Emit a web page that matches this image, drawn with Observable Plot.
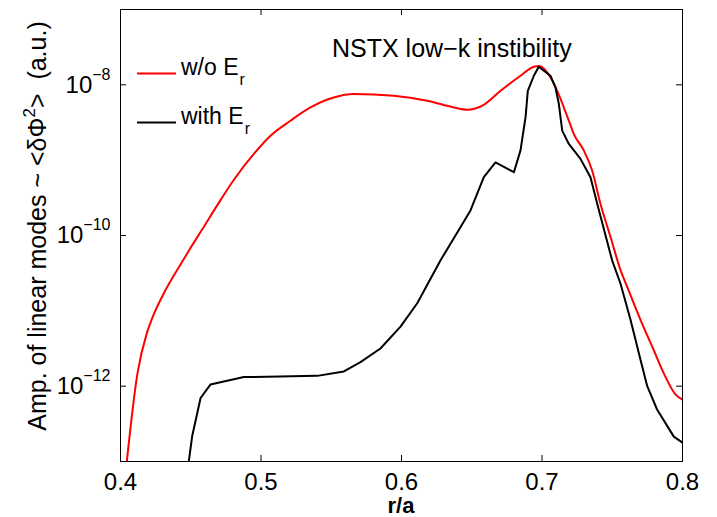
<!DOCTYPE html>
<html>
<head>
<meta charset="utf-8">
<script src="https://cdn.jsdelivr.net/npm/d3@7"></script>
<script src="https://cdn.jsdelivr.net/npm/@observablehq/plot@0.6"></script>
<style>
  body { margin: 0; background: #fff; }
  #chart { position: relative; width: 717px; height: 517px; font-family: "Liberation Sans", Arial, sans-serif; }
</style>
</head>
<body>
<div id="chart"></div>
<script>
// ---- data ----
const xTicks = [0.4, 0.5, 0.6, 0.7, 0.8];
const yTicks = [1e-12, 1e-10, 1e-8];
const yTickExponents = ["−12", "−10", "−8"];

const seriesNames = ["w/o E", "with E"];
const seriesSub = "r";
const titleText = "NSTX low−k instibility";

// w/o E_r (red)
const redR = [0.4045, 0.4119, 0.419, 0.4225, 0.4308, 0.4439, 0.451, 0.4581, 0.4688, 0.4807, 0.4949, 0.5068, 0.521,
  0.5352, 0.5518, 0.5661, 0.5945, 0.6183, 0.6373, 0.6468, 0.6586, 0.6705, 0.6847, 0.6942, 0.698, 0.706, 0.7108,
  0.7191, 0.7226, 0.7298, 0.7357, 0.7416, 0.7488, 0.7559, 0.7606, 0.7701, 0.7795, 0.7867, 0.795, 0.8];
const redAmp = [1.0e-13, 1.41e-12, 5.25e-12, 7.94e-12, 1.70e-11, 4.47e-11, 7.41e-11, 1.20e-10, 2.51e-10, 5.50e-10, 1.21e-9, 2.11e-9, 3.34e-9,
  5.01e-9, 6.79e-9, 7.53e-9, 7.14e-9, 6.14e-9, 5.01e-9, 4.67e-9, 5.43e-9, 8.34e-9, 1.32e-8, 1.74e-8, 1.78e-8, 1.26e-8, 8.3e-9,
  3.34e-9, 2.23e-9, 1.34e-9, 7.28e-10, 2.63e-10, 9.55e-11, 3.47e-11, 2.09e-11, 7.59e-12, 3.02e-12, 1.48e-12, 7.76e-13, 6.61e-13];

// with E_r (black)
const blackR = [0.4486, 0.451, 0.457, 0.464, 0.4878, 0.54, 0.559, 0.5708, 0.585, 0.5993, 0.6112, 0.6278, 0.6491,
  0.6586, 0.6669, 0.680, 0.6847, 0.6883, 0.6899, 0.6942, 0.6977, 0.706, 0.7096, 0.712, 0.7144, 0.7191, 0.7274,
  0.7345, 0.7393, 0.7499, 0.7559, 0.763, 0.7701, 0.7749, 0.7819, 0.7938, 0.8];
const blackAmp = [1.0e-13, 2.16e-13, 6.97e-13, 1.05e-12, 1.32e-12, 1.37e-12, 1.57e-12, 2.09e-12, 3.16e-12, 6.17e-12, 1.26e-11, 4.68e-11, 2.15e-10,
  5.94e-10, 9.33e-10, 6.92e-10, 1.35e-9, 3.72e-9, 8.32e-9, 1.32e-8, 1.74e-8, 1.32e-8, 9.23e-9, 5.56e-9, 2.47e-9, 1.64e-9, 1.04e-9,
  5.94e-10, 2.63e-10, 4.68e-11, 2.29e-11, 7.59e-12, 2.24e-12, 1.0e-12, 4.9e-13, 2.14e-13, 1.78e-13];

const red = redR.map((r, i) => ({r, amp: redAmp[i]}));
const black = blackR.map((r, i) => ({r, amp: blackAmp[i]}));

// ---- layout ----
const W = 717, H = 517, mL = 120, mR = 35, mT = 9, mB = 56;
const innerW = W - mL - mR, innerH = H - mT - mB;
const tickLen = 6;
const FONT = "Liberation Sans, Arial, Helvetica, sans-serif";

const plot = Plot.plot({
  width: W, height: H,
  marginLeft: mL, marginRight: mR, marginTop: mT, marginBottom: mB,
  style: {fontFamily: FONT, background: "white", color: "black", overflow: "visible"},
  x: {domain: [0.4, 0.8]},
  y: {type: "log", domain: [1e-13, 1e-7]},
  marks: [
    Plot.line(red, {x: "r", y: "amp", stroke: "#ff0000", strokeWidth: 2, clip: true, curve: "monotone-x"}),
    Plot.line(black, {x: "r", y: "amp", stroke: "#000000", strokeWidth: 2, clip: true}),
    Plot.frame({stroke: "#000", strokeWidth: 1}),
    Plot.tickX(xTicks, {x: d => d, insetTop: innerH - tickLen, stroke: "#000"}),
    Plot.tickX(xTicks, {x: d => d, insetBottom: innerH - tickLen, stroke: "#000"}),
    Plot.tickY(yTicks, {y: d => d, insetRight: innerW - tickLen, stroke: "#000"}),
    Plot.tickY(yTicks, {y: d => d, insetLeft: innerW - tickLen, stroke: "#000"}),
    Plot.axisX({ticks: xTicks, tickSize: 0, tickPadding: 11, fontSize: 24, tickFormat: d => d.toFixed(1), label: null}),
    Plot.axisY({ticks: yTicks, tickSize: 0, tickPadding: 10, fontSize: 24, tickFormat: d => "10", label: null})
  ]
});

document.getElementById("chart").appendChild(plot);
const svg = d3.select(plot);

// superscript exponents on y tick labels
svg.selectAll('g[aria-label="y-axis tick label"] text').each(function(d, i) {
  const t = d3.select(this);
  t.selectAll("tspan").remove();
  t.text("10");
  t.append("tspan").attr("dy", -13).attr("font-size", 16).text(yTickExponents[i]);
});

// y-axis label
const yl = svg.append("text")
  .attr("transform", "translate(46,226) rotate(-90)")
  .attr("text-anchor", "middle")
  .attr("font-family", FONT).attr("font-size", 25).attr("fill", "#000");
yl.append("tspan").text("Amp. of linear modes ~ <δΦ");
yl.append("tspan").attr("dy", -11).attr("font-size", 17).text("2");
yl.append("tspan").attr("dy", 11).text(">  (a.u.)");

// x-axis label
svg.append("text")
  .attr("x", mL + innerW / 2).attr("y", 513)
  .attr("text-anchor", "middle")
  .attr("font-family", FONT).attr("font-size", 22).attr("font-weight", "bold").attr("fill", "#000")
  .text("r/a");

// title inside plot
svg.append("text")
  .attr("x", 332).attr("y", 57)
  .attr("text-anchor", "start")
  .attr("font-family", FONT).attr("font-size", 25).attr("fill", "#000")
  .text(titleText);

// legend
const legendColors = ["#ff0000", "#000000"];
const legendY = [73.5, 122.5];
seriesNames.forEach((name, i) => {
  svg.append("line")
    .attr("x1", 137).attr("x2", 176).attr("y1", legendY[i]).attr("y2", legendY[i])
    .attr("stroke", legendColors[i]).attr("stroke-width", 2);
  const t = svg.append("text")
    .attr("x", 181).attr("y", legendY[i] + 1.5)
    .attr("text-anchor", "start")
    .attr("font-family", FONT).attr("font-size", 23).attr("fill", "#000");
  t.append("tspan").text(name);
  t.append("tspan").attr("dy", 10).attr("dx", 1).attr("font-size", 16).text(seriesSub);
});
</script>
</body>
</html>
